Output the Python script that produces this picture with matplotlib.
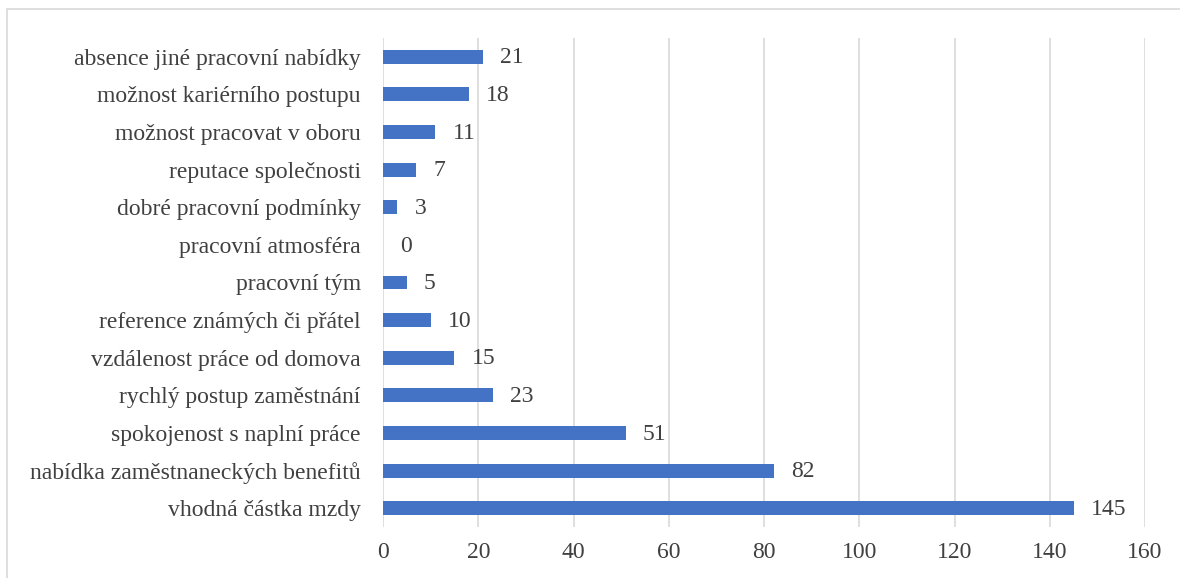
import matplotlib.pyplot as plt
from matplotlib.patches import Rectangle

plt.rcParams['font.family'] = ['Liberation Serif', 'DejaVu Serif']

# categories from bottom to top
categories = [
    'vhodná částka mzdy',
    'nabídka zaměstnaneckých benefitů',
    'spokojenost s naplní práce',
    'rychlý postup zaměstnání',
    'vzdálenost práce od domova',
    'reference známých či přátel',
    'pracovní tým',
    'pracovní atmosféra',
    'dobré pracovní podmínky',
    'reputace společnosti',
    'možnost pracovat v oboru',
    'možnost kariérního postupu',
    'absence jiné pracovní nabídky',
]
values = [145, 82, 51, 23, 15, 10, 5, 0, 3, 7, 11, 18, 21]
x_ticks = [0, 20, 40, 60, 80, 100, 120, 140, 160]

text_color = '#404040'
fs = 17

fig = plt.figure(figsize=(11.8, 5.78), dpi=100)
ax = fig.add_axes([383 / 1180, 1 - 527 / 578, 762 / 1180, 489 / 578])

ypos = range(len(categories))
ax.barh(ypos, values, height=0.37, color='#4472C4', zorder=3)

for y, v in zip(ypos, values):
    ax.text(v + 3.6, y - 0.03, str(v), va='center', ha='left', fontsize=fs, color=text_color)

ax.set_xlim(0, 160)
ax.set_ylim(-0.5, len(categories) - 0.5)
ax.set_xticks(x_ticks)
ax.set_yticks(list(ypos))
ax.set_yticklabels(categories)
ax.tick_params(axis='both', length=0, labelsize=fs, colors=text_color)
ax.tick_params(axis='x', pad=11)
ax.tick_params(axis='y', pad=16)
ax.xaxis.grid(True, color='#d9d9d9', linewidth=1.2, zorder=0)
for s in ax.spines.values():
    s.set_visible(False)

# outer chart border (only left and top edges fall inside the image)
fig.patches.append(Rectangle((7 / 1180, -0.05), 1.1, 1 - 9 / 578 + 0.05,
                             transform=fig.transFigure, fill=False,
                             edgecolor='#d9d9d9', linewidth=1.2))

fig.savefig('out.png', dpi=100)
